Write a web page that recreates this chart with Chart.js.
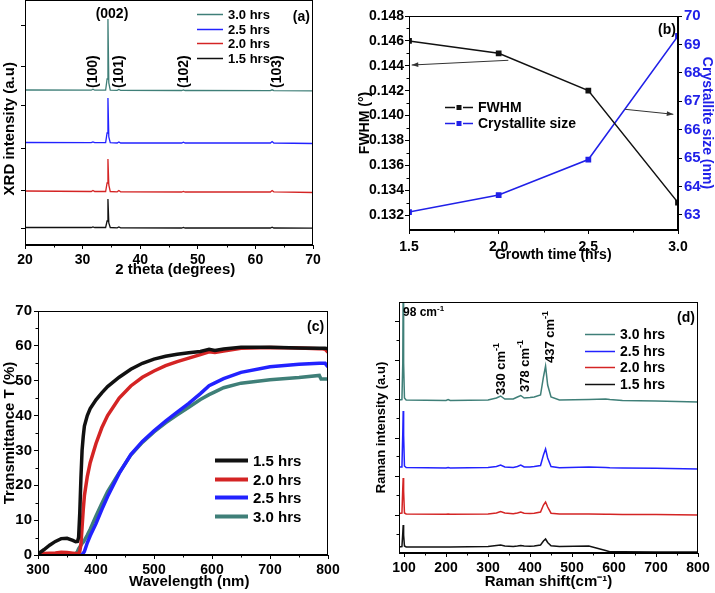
<!DOCTYPE html>
<html>
<head>
<style>
  body { margin: 0; background: #fff; }
  canvas { position: absolute; }
</style>
<script src="https://cdn.jsdelivr.net/npm/chart.js"></script>
</head>
<body>
<canvas id="xrd" width="357" height="290" style="left:0;top:0"></canvas>
<canvas id="fwhm" width="358" height="290" style="left:357px;top:0"></canvas>
<canvas id="trans" width="357" height="298" style="left:0;top:295px"></canvas>
<canvas id="raman" width="358" height="298" style="left:357px;top:295px"></canvas>
<script>
// ---- (a) XRD patterns, already stacked (arbitrary units)
var xrdTheta = [20, 31.5, 31.8, 32.1, 34.0, 34.25, 34.4, 34.55, 34.8, 36.0, 36.3, 36.6, 47.2, 47.5, 47.8, 62.6, 62.9, 63.2, 70];
var xrd15 = [17.5, 17.5, 18, 17.5, 17.5, 24, 46, 22, 17.5, 17.2, 18, 17.2, 17, 17.5, 17, 17, 17.8, 17, 16.8];
var xrd20 = [54, 53.5, 54.5, 53.5, 53.5, 62, 86, 60, 53.5, 53.2, 54.5, 53.2, 53, 53.5, 53, 53, 54.5, 53.2, 52.5];
var xrd25 = [102.5, 102.3, 103, 102.3, 102.3, 112, 147, 108, 102.3, 102, 103, 102, 102, 102.8, 102, 102, 103.5, 102, 101.5];
var xrd30 = [155, 154.8, 155.8, 154.8, 154.8, 166, 226, 162, 154.8, 154.6, 155.5, 154.6, 154.5, 155, 154.5, 154.4, 155.2, 154.4, 154.2];
var xrdTicksX = [20, 30, 40, 50, 60, 70];
var xrdTicksY = [17, 55, 97, 139, 178, 220];

// ---- (b) FWHM and crystallite size
var growthTime = [1.5, 2.0, 2.5, 3.0];
var fwhm = [0.146, 0.145, 0.142, 0.133];
var crystalSize = [63.1, 63.7, 64.95, 69.3];
var timeTicks = [1.5, 2.0, 2.5, 3.0];
var fwhmTicks = [0.132, 0.134, 0.136, 0.138, 0.140, 0.142, 0.144, 0.146, 0.148];
var sizeTicks = [63, 64, 65, 66, 67, 68, 69, 70];

// ---- (c) transmittance
var wavelength = [300, 310, 320, 330, 340, 350, 360, 365, 368, 370, 372, 374, 376, 378, 380, 385, 390, 400, 410, 420, 440, 460, 480, 500, 520, 540, 560, 580, 595, 605, 620, 650, 700, 750, 785, 788, 795, 800];
var trans15 = [0.3, 1.5, 2.8, 3.9, 4.7, 4.8, 4.2, 3.8, 3.9, 5, 12, 22, 30, 34, 37, 40, 42, 44.5, 46.5, 48.3, 51, 53.3, 55, 56.2, 57, 57.6, 58, 58.4, 59, 58.7, 59.1, 59.6, 59.6, 59.4, 59.3, 59.3, 59.3, 59.2];
var trans20 = [0.2, 0.4, 0.5, 0.6, 0.8, 0.7, 0.5, 0.4, 0.4, 0.5, 1, 3, 8, 13, 17, 22.5, 26.5, 32, 36.5, 40, 45, 48.5, 51, 52.8, 54.3, 55.5, 56.5, 57.5, 58.3, 58.1, 58.5, 59.3, 59.5, 59.4, 59.2, 59.2, 59, 58.2];
var trans25 = [0, 0, 0, 0, 0, 0, 0, 0, 0, 0, 0, 0, 0.2, 0.5, 1, 3.5, 5.5, 9, 13, 16.8, 23.4, 28.8, 32.6, 35.6, 38.4, 41, 43.5, 46.3, 48.6, 49.4, 50.6, 52.4, 54, 54.7, 55, 55, 55, 54];
var trans30 = [0, 0, 0, 0, 0, 0, 0, 0.3, 1, 1.8, 2.3, 2.8, 3.3, 3.7, 4.2, 5.7, 7.4, 11.2, 14.8, 18.2, 23.6, 28.7, 32.3, 35.3, 37.9, 40.2, 42.4, 44.6, 46, 46.8, 48, 49.3, 50.3, 50.9, 51.5, 50.5, 50.5, 50.5];
var waveTicks = [300, 400, 500, 600, 700, 800];
var transTicks = [0, 10, 20, 30, 40, 50, 60, 70];

// ---- (d) Raman spectra, already stacked (arbitrary units)
var ramanShift = [88, 95, 97, 98, 99, 101, 105, 200, 205, 210, 300, 320, 330, 340, 360, 370, 378, 386, 400, 410, 425, 432, 437, 442, 450, 470, 540, 580, 590, 620, 700, 800];
var raman15 = [6, 6.5, 20, 28, 18, 7, 6, 6, 6, 6, 6.5, 7.5, 8, 7, 6.5, 7, 7.5, 7, 6.8, 7, 8, 12, 14, 10.5, 7.2, 6.5, 7, 2.5, 1.3, 1.2, 1.1, 1];
var raman20 = [39.5, 40, 65, 75, 62, 40, 39, 38.8, 39, 38.8, 39, 40, 41.5, 40, 39.3, 40, 41, 39.8, 39.5, 39.8, 41, 48, 51, 46, 39.8, 39, 39, 38.8, 38.8, 38.6, 38.5, 38];
var raman25 = [86, 86, 120, 142, 118, 87, 85.5, 85, 85.5, 85, 85.5, 86.5, 88, 86, 85.5, 86.5, 88, 86, 86, 86.5, 87.5, 98, 104, 95, 86.5, 85.3, 86, 85.5, 85.3, 85, 84.8, 84];
var raman30 = [153, 153.5, 190, 270, 190, 155, 153, 152.5, 153.5, 152.5, 153, 155, 157, 154, 154, 156, 157.5, 155, 155.5, 156, 158, 176, 187, 168, 156, 153, 153.5, 154, 153.5, 152.5, 152, 151];
var ramanTicksX = [100, 200, 300, 400, 500, 600, 700, 800];
var ramanTicksY = [38, 77, 115, 154, 193, 232];

var seriesLabels = ['1.5 hrs', '2.0 hrs', '2.5 hrs', '3.0 hrs'];
var colors = ['#111111', '#d42424', '#2222ff', '#3f7f78'];
var blue = '#2020e8';

Chart.defaults.font.family = '"Liberation Sans", Arial, sans-serif';
Chart.defaults.font.weight = 'bold';
Chart.defaults.font.size = 14;
Chart.defaults.color = '#000';
Chart.defaults.animation = false;
Chart.defaults.responsive = false;
Chart.defaults.plugins.legend.display = false;
Chart.defaults.plugins.tooltip.enabled = false;
Chart.defaults.elements.point.radius = 0;
Chart.defaults.elements.line.tension = 0;

function pts(xs, ys) {
  return xs.map(function (x, i) { return {x: x, y: ys[i]}; });
}

// one linear axis with fixed box size and explicit tick list
function axis(o) {
  var c = o.color || '#000';
  return {
    type: 'linear',
    position: o.position,
    min: o.min, max: o.max,
    afterBuildTicks: function (s) { s.ticks = o.ticks.map(function (v) { return {value: v}; }); },
    afterFit: function (s) { if (o.horiz) s.height = o.size; else s.width = o.size; },
    grid: {drawOnChartArea: false, drawTicks: true, tickLength: 4, color: '#000'},
    border: {display: true, color: '#000', width: 1},
    ticks: {
      display: o.labels !== false, padding: o.pad == null ? 2 : o.pad, color: c,
      font: {size: o.fs || 14}, maxRotation: 0, autoSkip: false,
      callback: o.fmt || function (v) { return v; }
    },
    title: {display: !!o.title, text: o.title, color: c, font: {size: o.ts || 15}, padding: o.tpad || 0}
  };
}

function minorList(from, to, step) {
  var out = [];
  for (var v = from; v <= to + step / 100; v += step) out.push(v);
  return out;
}

// frame, minor ticks, text, arrows and in-plot legend
var decor = {
  id: 'decor',
  afterDraw: function (chart, args, o) {
    var ctx = chart.ctx, a = chart.chartArea;
    ctx.save();
    ctx.strokeStyle = '#000';
    ctx.lineWidth = 1;
    ctx.strokeRect(Math.round(a.left) + 0.5, Math.round(a.top) + 0.5,
      Math.round(a.right - a.left) - 1, Math.round(a.bottom - a.top) - 1);

    (o.minor || []).forEach(function (m) {
      var s = chart.scales[m.axis];
      m.vals.forEach(function (v) {
        var p = Math.round(s.getPixelForValue(v)) + 0.5;
        ctx.beginPath();
        if (s.isHorizontal()) { ctx.moveTo(p, a.bottom); ctx.lineTo(p, a.bottom + 2.5); }
        else if (s.position === 'right') { ctx.moveTo(a.right, p); ctx.lineTo(a.right + 2.5, p); }
        else { ctx.moveTo(a.left, p); ctx.lineTo(a.left - 2.5, p); }
        ctx.stroke();
      });
    });

    (o.arrows || []).forEach(function (r) {
      var sx = chart.scales.x, sy = chart.scales[r.axis || 'y'];
      var x0 = sx.getPixelForValue(r.from[0]), y0 = sy.getPixelForValue(r.from[1]);
      var x1 = sx.getPixelForValue(r.to[0]), y1 = sy.getPixelForValue(r.to[1]);
      var ang = Math.atan2(y1 - y0, x1 - x0);
      ctx.strokeStyle = '#333'; ctx.fillStyle = '#333'; ctx.lineWidth = 1;
      ctx.beginPath(); ctx.moveTo(x0, y0); ctx.lineTo(x1, y1); ctx.stroke();
      ctx.beginPath();
      ctx.moveTo(x1, y1);
      ctx.lineTo(x1 - 7 * Math.cos(ang - 0.35), y1 - 7 * Math.sin(ang - 0.35));
      ctx.lineTo(x1 - 7 * Math.cos(ang + 0.35), y1 - 7 * Math.sin(ang + 0.35));
      ctx.closePath(); ctx.fill();
    });

    (o.texts || []).forEach(function (t) {
      var x = chart.scales.x.getPixelForValue(t.x), y = chart.scales[t.axis || 'y'].getPixelForValue(t.y);
      var f = t.size || 14;
      var fam = Chart.defaults.font.family;
      ctx.save();
      ctx.translate(x, y);
      if (t.rot) ctx.rotate(-Math.PI / 2);
      ctx.fillStyle = t.color || '#000';
      ctx.textBaseline = 'middle';
      ctx.textAlign = 'left';
      ctx.font = 'bold ' + f + 'px ' + fam;
      var wb = ctx.measureText(t.text).width;
      var fs = Math.round(f * 0.7);
      ctx.font = 'bold ' + fs + 'px ' + fam;
      var ws = t.sup ? ctx.measureText(t.sup).width : 0;
      var w = wb + ws;
      var x0 = t.align === 'center' ? -w / 2 : (t.align === 'right' ? -w : 0);
      ctx.font = 'bold ' + f + 'px ' + fam;
      ctx.fillText(t.text, x0, 0);
      if (t.sup) {
        ctx.font = 'bold ' + fs + 'px ' + fam;
        ctx.fillText(t.sup, x0 + wb, -f * 0.38);
      }
      ctx.restore();
    });

    var L = o.legend;
    if (L) {
      ctx.font = 'bold ' + L.size + 'px ' + Chart.defaults.font.family;
      ctx.textBaseline = 'middle';
      ctx.textAlign = 'left';
      L.order.forEach(function (di, k) {
        var ds = chart.data.datasets[di];
        var y = Math.round(L.y + k * L.dy) + 0.5;
        ctx.strokeStyle = ds.borderColor; ctx.fillStyle = ds.borderColor;
        ctx.lineWidth = L.lw;
        ctx.beginPath();
        if (L.marker) {
          ctx.moveTo(L.x, y); ctx.lineTo(L.x + 10, y);
          ctx.moveTo(L.x + L.len - 10, y); ctx.lineTo(L.x + L.len, y);
          ctx.stroke();
          ctx.fillRect(L.x + L.len / 2 - 2.5, y - 2.5, 5, 5);
        } else {
          ctx.moveTo(L.x, y); ctx.lineTo(L.x + L.len, y); ctx.stroke();
        }
        ctx.fillStyle = '#000';
        ctx.fillText(ds.label, L.x + L.len + 5, y + 1);
      });
    }
    ctx.restore();
  }
};

function line(label, xs, ys, color, width) {
  return {label: label, data: pts(xs, ys), borderColor: color, backgroundColor: color, borderWidth: width, fill: false};
}

// ---- (a)
new Chart(document.getElementById('xrd'), {
  type: 'line',
  data: {datasets: [
    line(seriesLabels[0], xrdTheta, xrd15, colors[0], 1.3),
    line(seriesLabels[1], xrdTheta, xrd20, colors[1], 1.3),
    line(seriesLabels[2], xrdTheta, xrd25, colors[2], 1.3),
    line(seriesLabels[3], xrdTheta, xrd30, colors[3], 1.3)
  ]},
  options: {
    layout: {padding: {left: 0, right: 44, top: 0, bottom: 10}},
    scales: {
      // leading/trailing spaces nudge the titles off-centre like the original
      x: axis({horiz: true, position: 'bottom', min: 20, max: 70, ticks: xrdTicksX, size: 35, pad: 3,
        title: '   2 theta (degrees)', tpad: {top: 0, bottom: 1}}),
      y: axis({position: 'left', min: 0, max: 245, ticks: xrdTicksY, size: 25, labels: false,
        title: 'XRD intensity (a.u)   ', tpad: {top: 1, bottom: 0}})
    },
    plugins: {decor: {
      minor: [{axis: 'x', vals: minorList(25, 65, 10)}],
      texts: [
        {text: '(002)', x: 35.1, y: 231, align: 'center', size: 14},
        {text: '(100)', x: 31.85, y: 157, rot: true, size: 14},
        {text: '(101)', x: 36.3, y: 157, rot: true, size: 14},
        {text: '(102)', x: 47.6, y: 157, rot: true, size: 14},
        {text: '(103)', x: 63.8, y: 157, rot: true, size: 14},
        {text: '(a)', x: 66.5, y: 228, size: 14}
      ],
      legend: {x: 197, y: 14, dy: 14.7, len: 26, lw: 1.5, size: 13, order: [3, 2, 1, 0]}
    }}
  },
  plugins: [decor]
});

// ---- (b)
new Chart(document.getElementById('fwhm'), {
  type: 'line',
  data: {datasets: [
    {label: 'FWHM', data: pts(growthTime, fwhm), yAxisID: 'y', borderColor: '#111', backgroundColor: '#111',
      borderWidth: 1.5, pointRadius: 3, pointStyle: 'rect'},
    {label: 'Crystallite size', data: pts(growthTime, crystalSize), yAxisID: 'y1', borderColor: blue, backgroundColor: blue,
      borderWidth: 1.5, pointRadius: 3, pointStyle: 'rect'}
  ]},
  options: {
    layout: {padding: {left: 0, right: 0, top: 16, bottom: 25}},
    scales: {
      x: axis({horiz: true, position: 'bottom', min: 1.5, max: 3.0, ticks: timeTicks, size: 35, pad: 5,
        fmt: function (v) { return v.toFixed(1); }, title: '     Growth time (hrs)', ts: 14, tpad: {top: 0, bottom: 1}}),
      y: axis({position: 'left', min: 0.1308, max: 0.148, ticks: fwhmTicks, size: 52, pad: 1, fs: 14,
        fmt: function (v) { return v.toFixed(3); }, title: 'FWHM (°)', ts: 14, tpad: {top: 0, bottom: 0}}),
      y1: axis({position: 'right', min: 62.47, max: 70, ticks: sizeTicks, size: 37, pad: 2, fs: 15, color: blue,
        fmt: function (v) { return v.toFixed(0); }, title: 'Crystallite size (nm)', ts: 14, tpad: {top: 0, bottom: 0}})
    },
    plugins: {decor: {
      minor: [
        {axis: 'x', vals: minorList(1.75, 2.75, 0.5)},
        {axis: 'y', vals: minorList(0.133, 0.147, 0.002)}
      ],
      arrows: [
        {from: [2.054, 0.14444], to: [1.515, 0.14406]},
        {from: [2.705, 0.1405], to: [2.974, 0.1401]}
      ],
      texts: [{text: '(b)', x: 2.889, y: 0.14688, size: 14}],
      legend: {x: 88, y: 107, dy: 16, len: 28, lw: 1.5, size: 14, marker: true, order: [0, 1]}
    }}
  },
  plugins: [decor]
});

// ---- (c)
new Chart(document.getElementById('trans'), {
  type: 'line',
  data: {datasets: [
    line(seriesLabels[0], wavelength, trans15, colors[0], 3.5),
    line(seriesLabels[1], wavelength, trans20, colors[1], 3.5),
    line(seriesLabels[2], wavelength, trans25, colors[2], 3.5),
    line(seriesLabels[3], wavelength, trans30, colors[3], 3.5)
  ]},
  options: {
    layout: {padding: {left: 0, right: 29, top: 16, bottom: 0}},
    scales: {
      x: axis({horiz: true, position: 'bottom', min: 300, max: 800, ticks: waveTicks, size: 38, pad: 3,
        title: '   Wavelength (nm)', tpad: {top: 0, bottom: 2}}),
      y: axis({position: 'left', min: 0, max: 70, ticks: transTicks, size: 38, pad: 2, fs: 15,
        title: 'Transmittance T (%)', tpad: {top: 1, bottom: 0}})
    },
    plugins: {decor: {
      minor: [
        {axis: 'x', vals: minorList(350, 750, 100)},
        {axis: 'y', vals: minorList(5, 65, 10)}
      ],
      texts: [{text: '(c)', x: 764, y: 65.4, size: 14}],
      legend: {x: 215, y: 165, dy: 18.7, len: 33, lw: 4, size: 15, order: [0, 1, 2, 3]}
    }}
  },
  plugins: [decor]
});

// ---- (d)
new Chart(document.getElementById('raman'), {
  type: 'line',
  data: {datasets: [
    line(seriesLabels[0], ramanShift, raman15, colors[0], 1.5),
    line(seriesLabels[1], ramanShift, raman20, colors[1], 1.5),
    line(seriesLabels[2], ramanShift, raman25, colors[2], 1.5),
    line(seriesLabels[3], ramanShift, raman30, colors[3], 1.5)
  ]},
  options: {
    layout: {padding: {left: 17, right: 17, top: 7, bottom: 0}},
    scales: {
      x: axis({horiz: true, position: 'bottom', min: 88, max: 800, ticks: ramanTicksX, size: 40, pad: 3,
        title: 'Raman shift(cm⁻¹)', tpad: {top: 0, bottom: 2}}),
      y: axis({position: 'left', min: 0, max: 251, ticks: ramanTicksY, size: 25, labels: false,
        title: 'Raman intensity (a.u)', ts: 13, tpad: {top: 0, bottom: 0}})
    },
    plugins: {decor: {
      minor: [
        {axis: 'x', vals: minorList(150, 750, 100)},
        {axis: 'y', vals: minorList(19, 251, 38.8)}
      ],
      texts: [
        {text: '98 cm', sup: '-1', x: 97.5, y: 240, size: 12},
        {text: '330 cm', sup: '-1', x: 333, y: 158, rot: true, size: 13},
        {text: '378 cm', sup: '-1', x: 388, y: 161, rot: true, size: 13},
        {text: '437 cm', sup: '-1', x: 447.5, y: 190, rot: true, size: 13},
        {text: '(d)', x: 750, y: 235, size: 14}
      ],
      legend: {x: 228, y: 39, dy: 16.5, len: 30, lw: 1.5, size: 14, order: [3, 2, 1, 0]}
    }}
  },
  plugins: [decor]
});
</script>
</body>
</html>
